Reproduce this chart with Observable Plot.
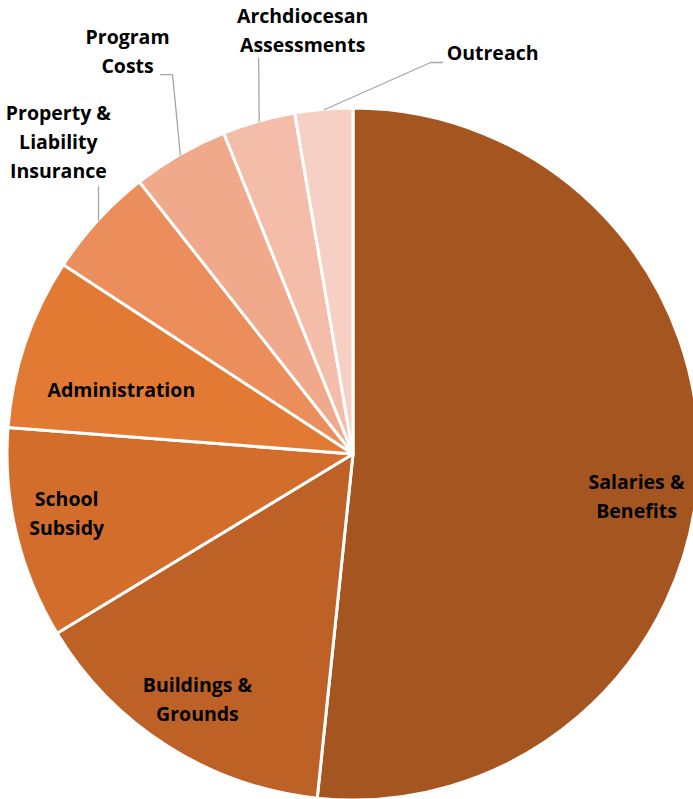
<!DOCTYPE html>
<html>
<head>
<meta charset="utf-8">
<script src="https://cdn.jsdelivr.net/npm/d3@7"></script>
<script src="https://cdn.jsdelivr.net/npm/@observablehq/plot@0.6"></script>
<style>
html,body{margin:0;padding:0;background:#fff;}
#chart{width:693px;height:799px;overflow:hidden;}
</style>
</head>
<body>
<div id="chart"></div>
<script>
// ---- data ----
const categories = [
  "Salaries & Benefits",
  "Buildings & Grounds",
  "School Subsidy",
  "Administration",
  "Property & Liability Insurance",
  "Program Costs",
  "Archdiocesan Assessments",
  "Outreach"
];
const values = [51.7, 14.7, 9.9, 8.0, 5.2, 4.5, 3.4, 2.7];
const labelLines = [
  ["Salaries &", "Benefits"],
  ["Buildings &", "Grounds"],
  ["School", "Subsidy"],
  ["Administration"],
  ["Property &", "Liability", "Insurance"],
  ["Program", "Costs"],
  ["Archdiocesan", "Assessments"],
  ["Outreach"]
];
const colors = ["#A55620", "#BE6126", "#D36D2B", "#E37A33", "#EC8E5B", "#F0A98A", "#F3BDA9", "#F6D0C5"];

// ---- layout (unit-circle coordinates) ----
const labelPos = [
  [0.818, -0.124], [-0.451, -0.711], [-0.829, -0.173], [-0.671, 0.185],
  [-0.853, 0.902], [-0.653, 1.162], [-0.147, 1.222], [0.402, 1.159]
];
// elbow points for leader lines (outer slice point is computed from the pie)
const leaderElbows = {
  4: [[-0.737, 0.774]],
  5: [[-0.523, 1.098], [-0.558, 1.098]],
  6: [[-0.274, 1.145]],
  7: [[0.223, 1.133], [0.257, 1.133]]
};

const R = 346;          // pixel radius
const lineH = 29 / R;   // line spacing in unit coordinates

const data = categories.map((c, i) => ({category: c, value: values[i], color: colors[i]}));
const arcs = d3.pie().sort(null).value(d => d.value).startAngle(0).endAngle(2 * Math.PI)(data);

const textRows = [];
labelLines.forEach((lines, i) => {
  lines.forEach((t, j) => {
    textRows.push({text: t, x: labelPos[i][0], y: labelPos[i][1] - (j - (lines.length - 1) / 2) * lineH});
  });
});

const leaders = [];
Object.entries(leaderElbows).forEach(([k, elbows]) => {
  const a = arcs[+k];
  const mid = (a.startAngle + a.endAngle) / 2;
  const pts = [[Math.sin(mid), Math.cos(mid)], ...elbows];
  pts.forEach(p => leaders.push({id: k, x: p[0], y: p[1]}));
});

function pieMark(index, scales) {
  const cx = scales.x(0), cy = scales.y(0);
  const r = scales.x(1) - scales.x(0);
  const arc = d3.arc().innerRadius(0).outerRadius(r);
  const g = d3.create("svg:g").attr("transform", `translate(${cx},${cy})`);
  g.selectAll("path").data(arcs).join("path")
    .attr("d", arc)
    .attr("fill", d => d.data.color)
    .attr("stroke", "#fff")
    .attr("stroke-width", 3)
    .attr("stroke-linejoin", "round");
  return g.node();
}

const chart = Plot.plot({
  width: 693,
  height: 799,
  margin: 0,
  x: {domain: [-1, 1], range: [7, 7 + 2 * R], axis: null},
  y: {domain: [-1, 1], range: [108 + 2 * R, 108], axis: null},
  style: {background: "#fff", overflow: "hidden"},
  marks: [
    pieMark,
    Plot.line(leaders, {x: "x", y: "y", z: "id", stroke: "#A6A6A6", strokeWidth: 1.3}),
    Plot.text(textRows, {
      x: "x", y: "y", text: "text",
      fontFamily: "Open Sans", fontWeight: 700, fontSize: 19.5, fill: "#000"
    })
  ]
});
document.getElementById("chart").appendChild(chart);
</script>
</body>
</html>
